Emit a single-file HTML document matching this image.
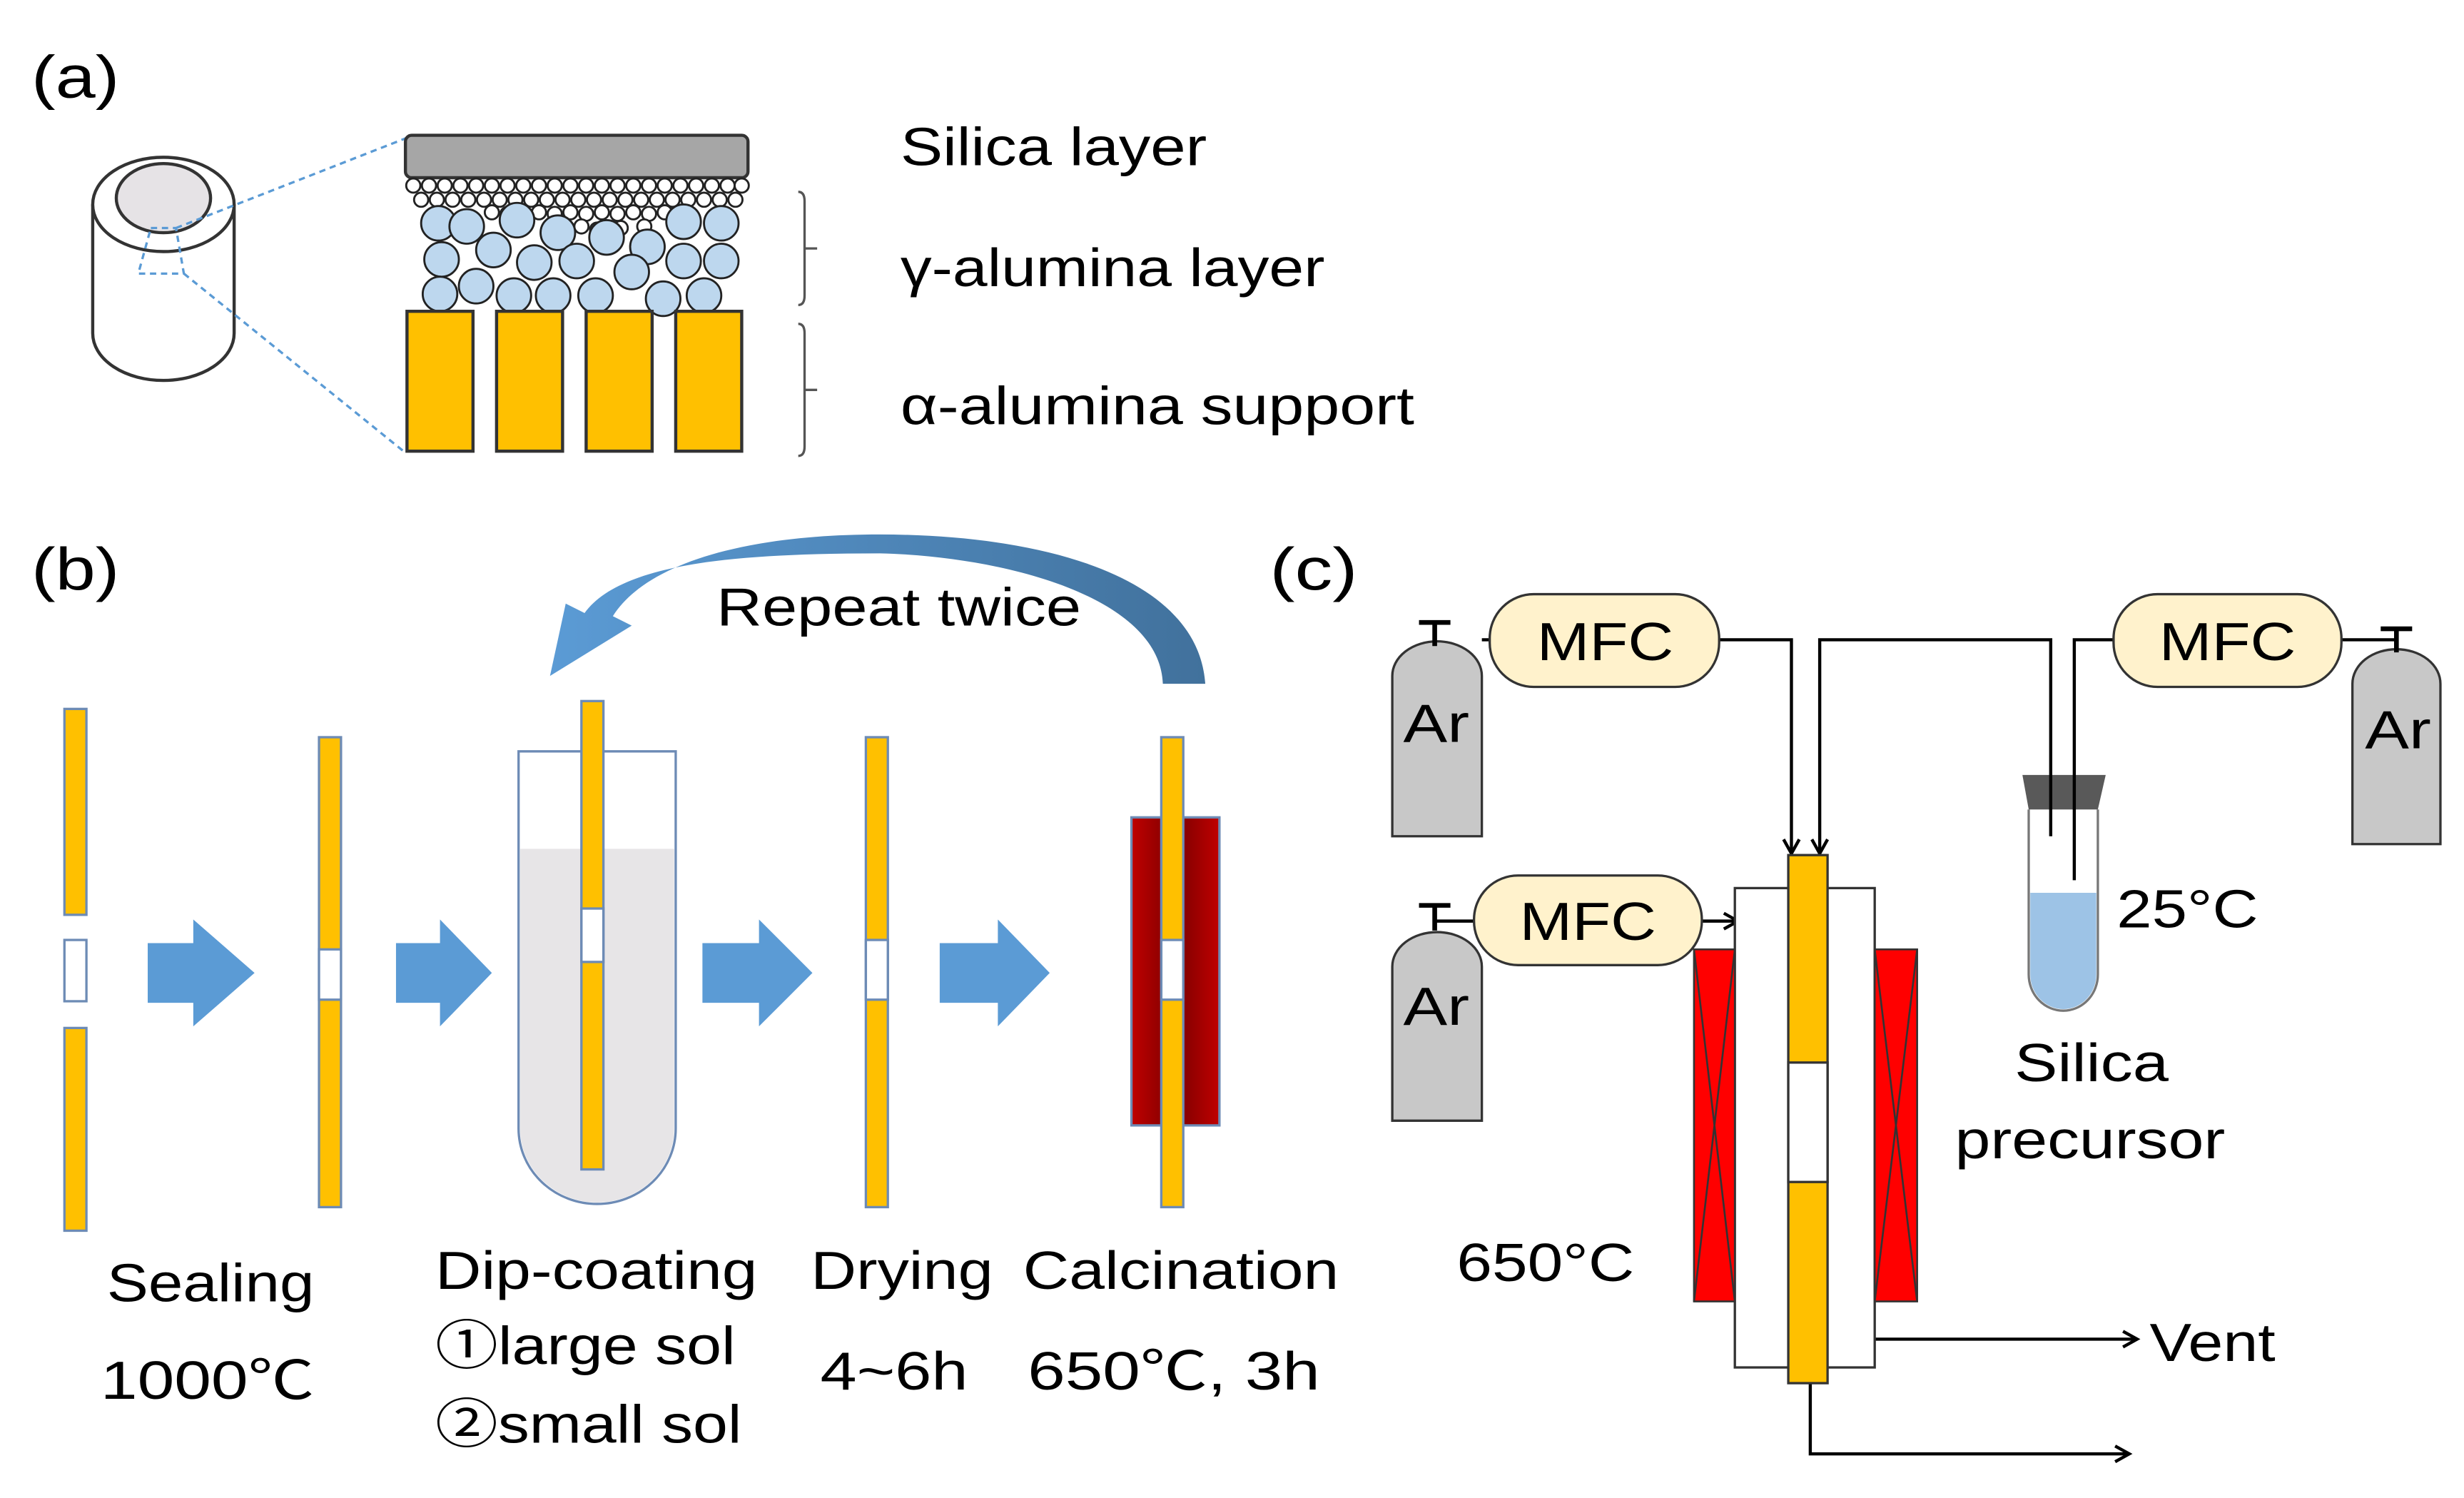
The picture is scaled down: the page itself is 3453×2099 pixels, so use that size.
<!DOCTYPE html>
<html><head><meta charset="utf-8"><style>html,body{margin:0;padding:0;background:#fff}svg{display:block}text{font-family:"Liberation Sans","Noto Sans CJK JP",sans-serif;fill:#000}</style></head>
<body>
<svg width="3453" height="2099" viewBox="0 0 1568 953" xmlns="http://www.w3.org/2000/svg">
<defs>
<marker id="ah" markerWidth="12" markerHeight="12" refX="10" refY="6" orient="auto" markerUnits="userSpaceOnUse"><path d="M1,1 L10,6 L1,11" fill="none" stroke="#000" stroke-width="2"/></marker>
<linearGradient id="fur" x1="0" x2="1" y1="0" y2="0"><stop offset="0" stop-color="#c00000"/><stop offset="0.5" stop-color="#7a0000"/><stop offset="1" stop-color="#c00000"/></linearGradient>
<linearGradient id="rep" x1="0" x2="1"><stop offset="0" stop-color="#5b9bd5"/><stop offset="1" stop-color="#41719c"/></linearGradient>
</defs>
<!-- (a) -->
<text x="20" y="62" font-size="38" textLength="56" lengthAdjust="spacingAndGlyphs">(a)</text>
<path d="M59,130 L59,212 A45,30 0 0 0 149,212 L149,130" fill="#fff" stroke="#333" stroke-width="2"/>
<ellipse cx="104" cy="130" rx="45" ry="30" fill="#fff" stroke="#333" stroke-width="2"/>
<ellipse cx="104" cy="126" rx="30" ry="22" fill="#e6e3e6" stroke="#333" stroke-width="2"/>
<path d="M96,145 L112,145 L117,174 L88,174 Z" fill="none" stroke="#5b9bd5" stroke-width="1.5" stroke-dasharray="4,3"/>
<line x1="112" y1="145" x2="258" y2="88" stroke="#5b9bd5" stroke-width="1.5" stroke-dasharray="4,3"/>
<line x1="117" y1="174" x2="258" y2="288" stroke="#5b9bd5" stroke-width="1.5" stroke-dasharray="4,3"/>
<rect x="258" y="86" width="218" height="27" rx="4" fill="#a6a6a6" stroke="#333" stroke-width="2"/>
<g fill="#fff" stroke="#222" stroke-width="1.3">
<circle cx="263" cy="118" r="4.5"/><circle cx="273" cy="118" r="4.5"/><circle cx="283" cy="118" r="4.5"/><circle cx="293" cy="118" r="4.5"/><circle cx="303" cy="118" r="4.5"/><circle cx="313" cy="118" r="4.5"/><circle cx="323" cy="118" r="4.5"/><circle cx="333" cy="118" r="4.5"/><circle cx="343" cy="118" r="4.5"/><circle cx="353" cy="118" r="4.5"/><circle cx="363" cy="118" r="4.5"/><circle cx="373" cy="118" r="4.5"/><circle cx="383" cy="118" r="4.5"/><circle cx="393" cy="118" r="4.5"/><circle cx="403" cy="118" r="4.5"/><circle cx="413" cy="118" r="4.5"/><circle cx="423" cy="118" r="4.5"/><circle cx="433" cy="118" r="4.5"/><circle cx="443" cy="118" r="4.5"/><circle cx="453" cy="118" r="4.5"/><circle cx="463" cy="118" r="4.5"/><circle cx="472" cy="118" r="4.5"/>
<circle cx="268" cy="127" r="4.5"/><circle cx="278" cy="127" r="4.5"/><circle cx="288" cy="127" r="4.5"/><circle cx="298" cy="127" r="4.5"/><circle cx="308" cy="127" r="4.5"/><circle cx="318" cy="127" r="4.5"/><circle cx="328" cy="127" r="4.5"/><circle cx="338" cy="127" r="4.5"/><circle cx="348" cy="127" r="4.5"/><circle cx="358" cy="127" r="4.5"/><circle cx="368" cy="127" r="4.5"/><circle cx="378" cy="127" r="4.5"/><circle cx="388" cy="127" r="4.5"/><circle cx="398" cy="127" r="4.5"/><circle cx="408" cy="127" r="4.5"/><circle cx="418" cy="127" r="4.5"/><circle cx="428" cy="127" r="4.5"/><circle cx="438" cy="127" r="4.5"/><circle cx="448" cy="127" r="4.5"/><circle cx="458" cy="127" r="4.5"/><circle cx="468" cy="127" r="4.5"/>
<circle cx="313" cy="135" r="4.5"/><circle cx="323" cy="136" r="4.5"/><circle cx="343" cy="135" r="4.5"/><circle cx="353" cy="136" r="4.5"/><circle cx="363" cy="135" r="4.5"/><circle cx="373" cy="136" r="4.5"/><circle cx="383" cy="135" r="4.5"/><circle cx="393" cy="136" r="4.5"/><circle cx="403" cy="135" r="4.5"/><circle cx="413" cy="136" r="4.5"/><circle cx="423" cy="135" r="4.5"/>
<circle cx="370" cy="144" r="4.5"/><circle cx="380" cy="146" r="4.5"/><circle cx="395" cy="145" r="4.5"/><circle cx="410" cy="144" r="4.5"/>
</g>
<g fill="#bdd7ee" stroke="#222" stroke-width="1.3">
<circle cx="279" cy="142" r="11"/><circle cx="297" cy="144" r="11"/><circle cx="329" cy="140" r="11"/><circle cx="355" cy="148" r="11"/><circle cx="386" cy="151" r="11"/><circle cx="412" cy="157" r="11"/><circle cx="435" cy="141" r="11"/><circle cx="459" cy="142" r="11"/>
<circle cx="281" cy="165" r="11"/><circle cx="314" cy="159" r="11"/><circle cx="340" cy="167" r="11"/><circle cx="367" cy="166" r="11"/><circle cx="402" cy="173" r="11"/><circle cx="435" cy="166" r="11"/><circle cx="459" cy="166" r="11"/>
<circle cx="280" cy="187" r="11"/><circle cx="303" cy="182" r="11"/><circle cx="327" cy="188" r="11"/><circle cx="352" cy="188" r="11"/><circle cx="379" cy="188" r="11"/><circle cx="422" cy="190" r="11"/><circle cx="448" cy="188" r="11"/>
</g>
<g fill="#ffc000" stroke="#333" stroke-width="2">
<rect x="259" y="198" width="42" height="89"/><rect x="316" y="198" width="42" height="89"/><rect x="373" y="198" width="42" height="89"/><rect x="430" y="198" width="42" height="89"/>
</g>
<g fill="none" stroke="#555" stroke-width="1.5">
<path d="M508,122 Q512,122 512,128 L512,188 Q512,194 508,194 M512,158 L520,158"/>
<path d="M508,206 Q512,206 512,212 L512,284 Q512,290 508,290 M512,248 L520,248"/>
</g>
<text x="573" y="105" font-size="34" textLength="195" lengthAdjust="spacingAndGlyphs">Silica layer</text>
<text x="573" y="182" font-size="34" textLength="270" lengthAdjust="spacingAndGlyphs">γ-alumina layer</text>
<text x="573" y="270" font-size="34" textLength="327" lengthAdjust="spacingAndGlyphs">α-alumina support</text>
<!-- (b) -->
<text x="20" y="375" font-size="38" textLength="56" lengthAdjust="spacingAndGlyphs">(b)</text>
<path d="M767,435 C762,365 660,340 560,340 C470,340 410,360 390,392 L402,398 L350,430 L360,384 L372,390 C395,358 470,352 560,352 C640,354 738,380 740,435 Z" fill="url(#rep)"/>
<text x="456" y="398" font-size="34" textLength="232" lengthAdjust="spacingAndGlyphs">Repeat twice</text>
<g stroke="#6d8bb5" stroke-width="1.5">
<rect x="41" y="451" width="14" height="131" fill="#ffc000"/><rect x="41" y="598" width="14" height="39" fill="#fff"/><rect x="41" y="654" width="14" height="129" fill="#ffc000"/>
<rect x="203" y="469" width="14" height="299" fill="#ffc000"/><rect x="203" y="604" width="14" height="32" fill="#fff"/>
<path d="M330,478 L430,478 L430,718 A50,48 0 0 1 330,718 Z" fill="#fff"/>
<path d="M331,540 L429,540 L429,718 A49,47 0 0 1 331,718 Z" fill="#e7e5e7" stroke="none"/>
<rect x="370" y="446" width="14" height="298" fill="#ffc000"/><rect x="370" y="578" width="14" height="34" fill="#fff"/>
<rect x="551" y="469" width="14" height="299" fill="#ffc000"/><rect x="551" y="598" width="14" height="38" fill="#fff"/>
<rect x="720" y="520" width="56" height="196" fill="url(#fur)"/>
<rect x="739" y="469" width="14" height="299" fill="#ffc000"/><rect x="739" y="598" width="14" height="38" fill="#fff"/>
</g>
<g fill="#5b9bd5">
<path d="M94,600 L123,600 L123,585 L162,619 L123,653 L123,638 L94,638 Z"/>
<path d="M252,600 L280,600 L280,585 L313,619 L280,653 L280,638 L252,638 Z"/>
<path d="M447,600 L483,600 L483,585 L517,619 L483,653 L483,638 L447,638 Z"/>
<path d="M598,600 L635,600 L635,585 L668,619 L635,653 L635,638 L598,638 Z"/>
</g>
<g font-size="34">
<text x="68" y="828" textLength="132" lengthAdjust="spacingAndGlyphs">Sealing</text>
<text x="64" y="890" textLength="136" lengthAdjust="spacingAndGlyphs">1000℃</text>
<text x="277" y="820" textLength="205" lengthAdjust="spacingAndGlyphs">Dip-coating</text>
<text x="277" y="868" textLength="191" lengthAdjust="spacingAndGlyphs">①large sol</text>
<text x="277" y="918" textLength="195" lengthAdjust="spacingAndGlyphs">②small sol</text>
<text x="516" y="820" textLength="116" lengthAdjust="spacingAndGlyphs">Drying</text>
<text x="522" y="884" textLength="94" lengthAdjust="spacingAndGlyphs">4~6h</text>
<text x="651" y="820" textLength="201" lengthAdjust="spacingAndGlyphs">Calcination</text>
<text x="654" y="884" textLength="186" lengthAdjust="spacingAndGlyphs">650℃, 3h</text>
</g>
<!-- (c) -->
<text x="808" y="375" font-size="38" textLength="56" lengthAdjust="spacingAndGlyphs">(c)</text>
<g fill="none" stroke="#000" stroke-width="2">
<path d="M1094,407 L1140,407 L1140,543" marker-end="url(#ah)"/>
<path d="M1305,532 L1305,407 L1158,407 L1158,543" marker-end="url(#ah)"/>
<path d="M1347,407 L1320,407 L1320,608" marker-end="url(#ah)"/>
<path d="M1083,586 L1106,586" marker-end="url(#ah)"/>
<path d="M1193,852 L1360,852" marker-end="url(#ah)"/>
<path d="M1152,880 L1152,925 L1355,925" marker-end="url(#ah)"/>
<line x1="943" y1="407" x2="948" y2="407"/><line x1="1490" y1="407" x2="1525" y2="407"/><line x1="913" y1="586" x2="938" y2="586"/>
</g>
<g fill="#c8c8c8" stroke="#333" stroke-width="1.5">
<path d="M886,532 L886,430 A28.5,22 0 0 1 943,430 L943,532 Z"/>
<path d="M1497,537 L1497,435 A28,22 0 0 1 1553,435 L1553,537 Z"/>
<path d="M886,713 L886,615 A28.5,22 0 0 1 943,615 L943,713 Z"/>
</g>
<g stroke="#000" stroke-width="3" fill="none">
<path d="M903,396 L923,396 M913,396 L913,411"/><path d="M1515,400 L1535,400 M1525,400 L1525,415"/><path d="M903,576 L923,576 M913,576 L913,592"/>
</g>
<g font-size="34"><text x="893" y="472" textLength="42" lengthAdjust="spacingAndGlyphs">Ar</text><text x="1505" y="476" textLength="42" lengthAdjust="spacingAndGlyphs">Ar</text><text x="893" y="652" textLength="42" lengthAdjust="spacingAndGlyphs">Ar</text></g>
<g fill="#fff2cc" stroke="#333" stroke-width="1.5">
<rect x="948" y="378" width="146" height="59" rx="28"/><rect x="1345" y="378" width="145" height="59" rx="28"/><rect x="938" y="557" width="145" height="57" rx="28"/>
</g>
<g font-size="34"><text x="978" y="420" textLength="87" lengthAdjust="spacingAndGlyphs">MFC</text><text x="1374" y="420" textLength="87" lengthAdjust="spacingAndGlyphs">MFC</text><text x="967" y="598" textLength="87" lengthAdjust="spacingAndGlyphs">MFC</text></g>
<path d="M1291,515 L1291,620 A22,23 0 0 0 1335,620 L1335,515" fill="#fff" stroke="#777" stroke-width="1.5"/>
<path d="M1292,568 L1334,568 L1334,620 A21,22 0 0 1 1292,620 Z" fill="#9dc3e6"/>
<path d="M1287,493 L1340,493 L1335,515 L1291,515 Z" fill="#595959"/>
<line x1="1305" y1="493" x2="1305" y2="532" stroke="#000" stroke-width="2"/><line x1="1320" y1="493" x2="1320" y2="560" stroke="#000" stroke-width="2"/>
<rect x="1104" y="565" width="89" height="305" fill="#fff" stroke="#333" stroke-width="1.5"/>
<g stroke="#333" stroke-width="1.2">
<rect x="1078" y="604" width="26" height="224" fill="#ff0000"/><path d="M1078,604 L1104,828 M1104,604 L1078,828" fill="none"/>
<rect x="1193" y="604" width="27" height="224" fill="#ff0000"/><path d="M1193,604 L1220,828 M1220,604 L1193,828" fill="none"/>
</g>
<rect x="1138" y="544" width="25" height="336" fill="#ffc000" stroke="#333" stroke-width="1.5"/>
<rect x="1138" y="676" width="25" height="76" fill="#fff" stroke="#333" stroke-width="1.5"/>
<g font-size="34">
<text x="1347" y="590" textLength="90" lengthAdjust="spacingAndGlyphs">25°C</text>
<text x="1282" y="688" textLength="98" lengthAdjust="spacingAndGlyphs">Silica</text>
<text x="1244" y="737" textLength="172" lengthAdjust="spacingAndGlyphs">precursor</text>
<text x="927" y="815" textLength="113" lengthAdjust="spacingAndGlyphs">650°C</text>
<text x="1368" y="866" textLength="80" lengthAdjust="spacingAndGlyphs">Vent</text>
</g>
</svg>
</body></html>
